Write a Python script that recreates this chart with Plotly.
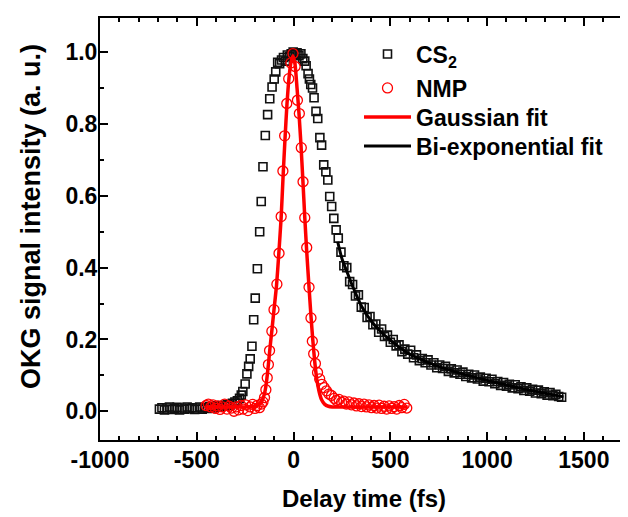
import plotly.graph_objects as go

# ---------------- data ----------------
x_cs2 = [-693, -680, -667, -654, -641, -628, -615, -602, -589, -576, -563, -550, -537, -524,
         -511, -498, -485, -472, -459, -446, -433, -420, -407, -394, -381, -368, -355, -342,
         -329, -316, -303, -290, -279, -270, -262, -250, -241, -232, -224, -215, -206, -198,
         -187, -175, -167, -158, -146, -134, -123, -111, -100, -92, -82, -72, -62, -52, -42,
         -32, -22, -12, -2, 8, 18, 28, 38, 48, 58, 65, 75, 82, 89, 98, 106, 116, 125, 136,
         145, 156, 167, 177, 187, 197, 208, 220, 231,
         245, 260, 275, 290, 305, 320, 335, 350, 365, 380, 395, 410, 425, 440, 455, 470, 485,
         500, 515, 530, 545, 560, 575, 590, 605, 620, 635, 650, 665, 680, 695, 710, 725, 740,
         755, 770, 785, 800, 815, 830, 845, 860, 875, 890, 905, 920, 935, 950, 965, 980, 995,
         1010, 1025, 1040, 1055, 1070, 1085, 1100, 1115, 1130, 1145, 1160, 1175, 1190, 1205,
         1220, 1235, 1250, 1265, 1280, 1295, 1310, 1325, 1340, 1355, 1370, 1385]
y_cs2 = [0.006, 0.010, 0.004, 0.009, 0.012, 0.005, 0.008, 0.011, 0.004, 0.009, 0.006, 0.012, 0.007, 0.010,
         0.005, 0.009, 0.012, 0.006, 0.010, 0.008, 0.013, 0.009, 0.012, 0.015, 0.011, 0.016, 0.014, 0.019,
         0.017, 0.022, 0.026, 0.029, 0.036, 0.045, 0.055, 0.076, 0.104, 0.125, 0.146, 0.181, 0.255, 0.315,
         0.397, 0.500, 0.584, 0.681, 0.768, 0.826, 0.870, 0.903, 0.925, 0.945, 0.972, 0.968, 0.978, 0.985, 0.975,
         0.992, 0.988, 0.995, 1.000, 0.993, 0.998, 0.990, 0.995, 0.982, 0.975, 0.962, 0.940, 0.925, 0.910, 0.900, 0.873, 0.835, 0.815, 0.762,
         0.741, 0.686, 0.667, 0.644, 0.598, 0.570, 0.537, 0.505, 0.482,
         0.443, 0.405, 0.400, 0.361, 0.353, 0.321, 0.324, 0.290, 0.289, 0.261, 0.264, 0.241, 0.243, 0.220, 0.229, 0.208, 0.212,
         0.192, 0.200, 0.182, 0.185, 0.166, 0.173, 0.159, 0.170, 0.149, 0.157, 0.141, 0.147, 0.135, 0.143, 0.129, 0.135, 0.121,
         0.129, 0.119, 0.125, 0.111, 0.118, 0.107, 0.115, 0.103, 0.109, 0.097, 0.103, 0.093, 0.101, 0.090, 0.095, 0.084, 0.092,
         0.082, 0.089, 0.077, 0.083, 0.072, 0.080, 0.070, 0.075, 0.065, 0.074, 0.063, 0.068, 0.058, 0.065,
         0.056, 0.061, 0.051, 0.059, 0.049, 0.054, 0.045, 0.052, 0.043, 0.047, 0.041, 0.039]

x_nmp = [-452, -440, -428, -416, -404, -392, -380, -368, -356, -344, -332, -320, -308, -296,
         -284, -272, -260, -248, -236, -224, -212, -200, -188, -176, -166, -158, -150, -143,
         -136, -130, -124, -112, -101, -86, -75, -64, -55, -46, -35, -25, -14, -3, 8, 20, 30,
         40, 49, 58, 68, 80, 90, 97, 104, 113, 124, 135, 146, 158, 170, 183, 196, 210, 222,
         235, 248, 260, 273, 286, 299, 312, 325, 338, 351, 364, 377, 390, 403, 416, 429, 442,
         455, 468, 481, 494, 507, 520, 533, 546, 559, 572, 585]
y_nmp = [0.016, 0.020, 0.012, 0.018, 0.008, 0.015, 0.005, 0.012, 0.020, 0.006, 0.014, 0.009, 0.000, 0.012,
         0.004, 0.016, 0.006, 0.018, 0.002, 0.012, 0.019, 0.008, 0.016, 0.010, 0.020, 0.026, 0.038, 0.060,
         0.093, 0.130, 0.169, 0.223, 0.283, 0.354, 0.440, 0.542, 0.669, 0.767, 0.857, 0.926, 0.970, 0.996, 0.960, 0.866, 0.829,
         0.734, 0.639, 0.539, 0.456, 0.345, 0.260, 0.195, 0.160, 0.133, 0.108, 0.090, 0.075, 0.066, 0.057, 0.048, 0.044, 0.036, 0.030,
         0.033, 0.025, 0.028, 0.020, 0.026, 0.018, 0.023, 0.015, 0.021, 0.013, 0.020, 0.012, 0.018, 0.010, 0.016, 0.009, 0.017,
         0.008, 0.014, 0.006, 0.015, 0.008, 0.013, 0.006, 0.016, 0.010, 0.019, 0.009]

x_gauss = [-452, -350, -250, -200, -180, -166, -155, -146, -138, -130, -122, -112, -101, -88, -76,
           -64, -54, -44, -34, -24, -14, -3, 8, 18, 28, 38, 48, 58, 68, 80, 90, 100, 110, 120,
           132, 145, 160, 180, 200, 250, 350, 450, 590]
y_gauss = [0.012, 0.012, 0.012, 0.014, 0.018, 0.026, 0.040, 0.060, 0.090, 0.130, 0.175, 0.225, 0.283, 0.350, 0.440,
           0.540, 0.655, 0.760, 0.855, 0.925, 0.970, 0.990, 0.965, 0.900, 0.830, 0.745, 0.645, 0.540, 0.445, 0.345, 0.265, 0.195, 0.135, 0.090,
           0.055, 0.032, 0.020, 0.014, 0.012, 0.012, 0.012, 0.012, 0.012]

x_biexp = [228, 250, 275, 300, 350, 400, 450, 500, 550, 600, 700, 800, 900, 1000, 1100, 1200, 1300, 1395]
y_biexp = [0.472, 0.425, 0.390, 0.355, 0.294, 0.252, 0.222, 0.198, 0.177, 0.159, 0.135, 0.116, 0.100, 0.086, 0.073, 0.061, 0.050, 0.040]

x_tickvals = [-1000, -500, 0, 500, 1000, 1500]
x_ticktext = ["-1000", "-500", "0", "500", "1000", "1500"]
y_tickvals = [0.0, 0.2, 0.4, 0.6, 0.8, 1.0]
y_ticktext = ["0.0", "0.2", "0.4", "0.6", "0.8", "1.0"]

# ---------------- figure ----------------
FONT = "Liberation Sans, Arial, sans-serif"
W, H = 628, 517
ML, MR, MT, MB = 92, 8, 10, 85
PW, PH = W - ML - MR, H - MT - MB


def px_y(py):
    return 1 - (py - MT) / PH


LEG_X = (351 - ML) / PW
leg_font = dict(family=FONT, size=23, color="black", weight="bold")


def leg(py):
    return dict(x=LEG_X, y=px_y(py), xanchor="left", yanchor="middle",
                bgcolor="rgba(0,0,0,0)", borderwidth=0, font=leg_font, itemwidth=47)


fig = go.Figure()
fig.add_trace(go.Scatter(
    x=x_cs2, y=y_cs2, mode="markers", name="CS<sub>2</sub>", legend="legend",
    marker=dict(symbol="square-open", size=8, color="#111111", line=dict(width=1.6))))
fig.add_trace(go.Scatter(
    x=x_nmp, y=y_nmp, mode="markers", name="NMP", legend="legend2",
    marker=dict(symbol="circle-open", size=10, color="#ff0000", line=dict(width=1.3))))
fig.add_trace(go.Scatter(
    x=x_gauss, y=y_gauss, mode="lines", name="Gaussian fit", legend="legend3",
    line=dict(color="#ff0000", width=3.5, shape="spline", smoothing=0.5)))
fig.add_trace(go.Scatter(
    x=x_biexp, y=y_biexp, mode="lines", name="Bi-exponential fit", legend="legend4",
    line=dict(color="#000000", width=3, shape="spline", smoothing=0.6)))

axis_common = dict(
    showline=True, linewidth=2, linecolor="black", mirror="allticks",
    ticks="inside", ticklen=8, tickwidth=2, tickcolor="black",
    showgrid=False, zeroline=False, automargin=False,
    tickfont=dict(family=FONT, size=23, color="black", weight="bold"),
)

fig.update_layout(
    width=W, height=H,
    margin=dict(l=ML, r=MR, t=MT, b=MB, autoexpand=False),
    paper_bgcolor="white", plot_bgcolor="white",
    font=dict(family=FONT, size=23, color="black", weight="bold"),
    showlegend=True,
    legend=leg(46),
    legend2=leg(80),
    legend3=leg(109),
    legend4=leg(138),
    xaxis=dict(
        range=[-1000, 1728], tickvals=x_tickvals, ticktext=x_ticktext,
        ticklabelstandoff=-2,
        minor=dict(ticks="inside", ticklen=4, tickwidth=1.5, tickcolor="black", dtick=100, tick0=0, showgrid=False),
        title=dict(text="Delay time (fs)", font=dict(family=FONT, size=24, color="black", weight="bold"), standoff=19),
        **axis_common,
    ),
    yaxis=dict(
        range=[-0.08, 1.095], tickvals=y_tickvals, ticktext=y_ticktext,
        ticklabelstandoff=-4,
        minor=dict(ticks="inside", ticklen=4, tickwidth=1.5, tickcolor="black", dtick=0.1, tick0=0, showgrid=False),
        **axis_common,
    ),
    annotations=[dict(
        text="OKG signal intensity (a. u.)", textangle=-90,
        xref="paper", yref="paper",
        x=(23 - ML) / PW, y=(H - MB - 209) / PH,
        xanchor="center", yanchor="middle", showarrow=False,
        font=dict(family=FONT, size=27, color="black", weight="bold"),
    )],
)

fig.write_html("out.html")
